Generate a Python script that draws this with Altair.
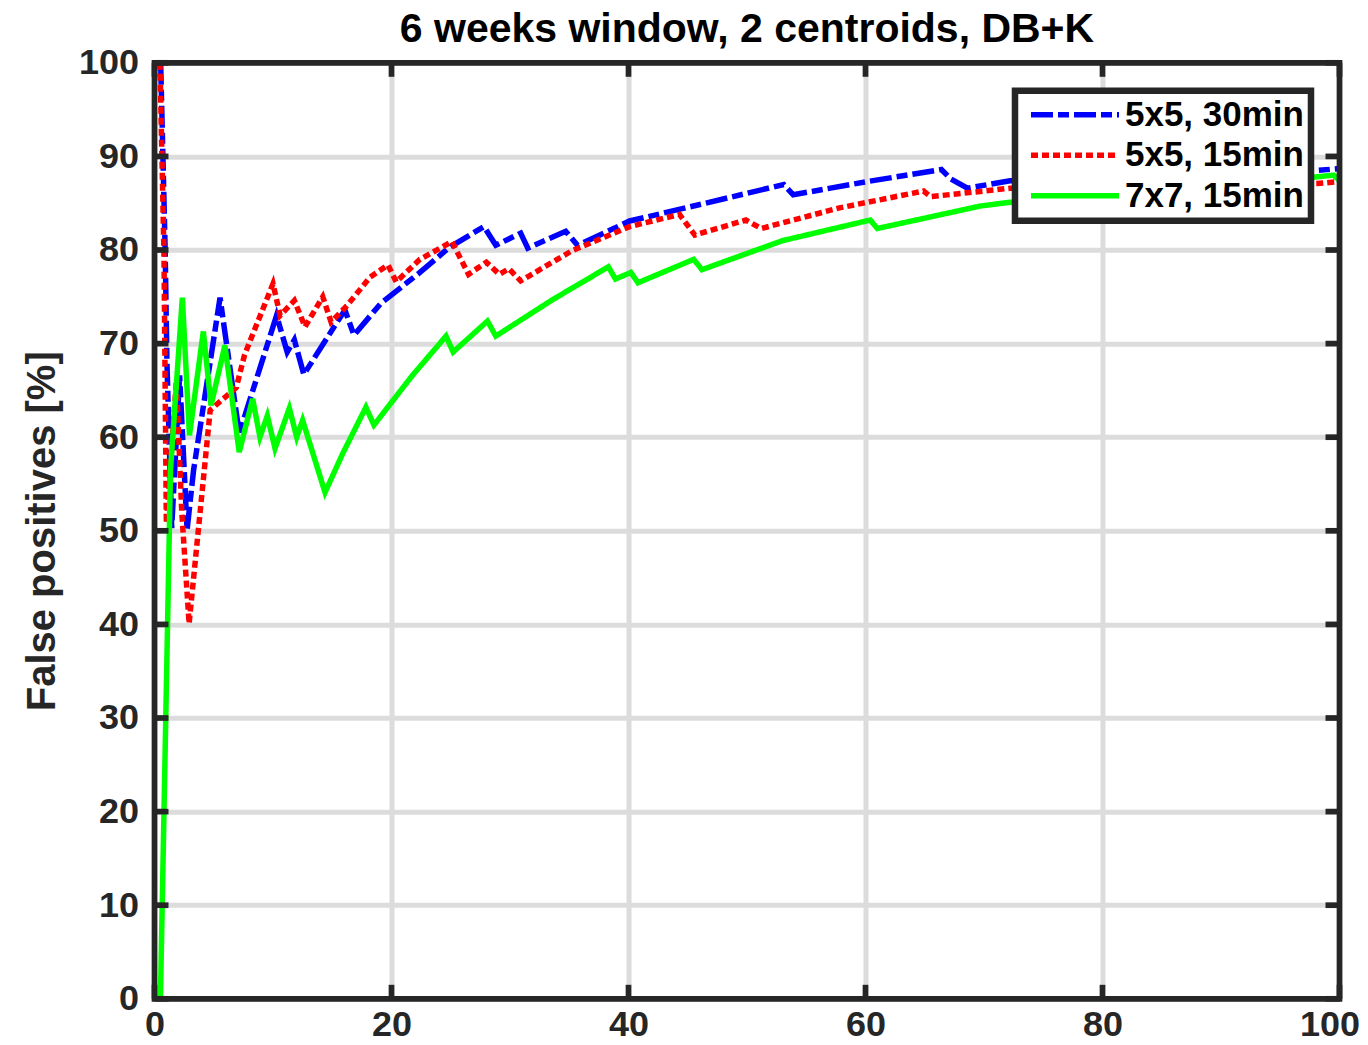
import altair as alt
import pandas as pd

# ---------------- data ----------------
series_names = ["5x5, 30min", "5x5, 15min", "7x7, 15min"]

blue_x = [0.52, 0.9, 1.05, 1.45, 2.12, 2.75, 3.3, 5.53, 7.15, 10.3, 11.2, 11.8, 12.6,
          16.07, 16.83, 19.1, 22.3, 24.9, 27.8, 28.8, 30.9, 31.5, 34.7, 35.7, 40.1,
          46.5, 53.1, 53.9, 60.1, 66.4, 67.2, 68.6, 72.2, 98.1, 100.0]
blue_y = [100.0, 80.0, 68.0, 50.3, 66.6, 50.1, 56.5, 74.9, 60.4, 73.0, 69.1, 70.4, 66.7,
          73.6, 70.9, 74.3, 77.5, 80.3, 82.5, 80.5, 81.8, 80.2, 82.0, 80.5, 83.1,
          85.0, 87.0, 85.9, 87.3, 88.6, 87.6, 86.6, 87.4, 88.5, 88.7]

red_x = [0.46, 0.8, 1.0, 1.85, 2.3, 2.92, 4.7, 6.9, 7.6, 10.0, 10.6, 11.8, 12.7, 14.2,
         14.9, 16.2, 18.2, 19.7, 20.4, 22.4, 25.1, 26.5, 28.0, 29.1, 29.9, 30.9, 35.2,
         40.1, 44.3, 45.6, 49.9, 51.2, 57.8, 64.9, 65.5, 72.2, 98.1, 100.0]
red_y = [100.0, 79.5, 50.8, 66.0, 52.0, 40.1, 62.9, 65.3, 68.8, 76.4, 73.0, 74.6, 71.8, 75.0,
         72.3, 74.0, 77.1, 78.4, 76.6, 79.0, 80.9, 77.4, 78.7, 77.4, 78.0, 76.7, 79.9,
         82.5, 83.8, 81.6, 83.2, 82.3, 84.5, 86.3, 85.7, 86.6, 87.1, 87.3]

green_x = [0.5, 1.35, 2.35, 2.95, 4.12, 4.77, 5.94, 7.15, 8.28, 8.9, 9.52, 10.17, 11.38,
           12.0, 12.5, 14.39, 15.9, 17.84, 18.52, 21.7, 24.6, 25.2, 28.1, 28.8, 33.6, 38.3,
           38.9, 40.2, 40.8, 45.5, 46.2, 53.0, 60.4, 61.0, 69.7, 72.2, 98.0, 99.5, 100.0]
green_y = [0.0, 56.5, 74.9, 60.2, 71.3, 63.4, 69.8, 58.4, 64.1, 60.0, 62.3, 58.8, 63.1,
           60.0, 61.8, 54.1, 58.3, 63.2, 61.3, 66.5, 70.8, 69.1, 72.4, 70.8, 74.7, 78.2,
           76.9, 77.6, 76.5, 79.0, 77.9, 81.0, 83.2, 82.3, 84.7, 85.1, 87.8, 88.0, 87.4]

x_ticks = [0, 20, 40, 60, 80, 100]
y_ticks = [0, 10, 20, 30, 40, 50, 60, 70, 80, 90, 100]

title_text = "6 weeks window, 2 centroids, DB+K"
y_title = "False positives [%]"

# ---------------- build table ----------------
rows = []
for name, xs, ys in zip(series_names, [blue_x, red_x, green_x], [blue_y, red_y, green_y]):
    for i, (a, b) in enumerate(zip(xs, ys)):
        rows.append({"series": name, "x": a, "y": b, "order": i})
df = pd.DataFrame(rows)

W, H = 1185, 936
FONT = "Liberation Sans"
DARK = "#262626"
TICK_LEN = 14
FRAME_W = 5.7

xscale = alt.Scale(domain=[0, 100], nice=False, zero=False)
yscale = alt.Scale(domain=[0, 100], nice=False, zero=False)
color_scale = alt.Scale(domain=series_names, range=["#0000ff", "#ff0000", "#00ff00"])
dash_scale = alt.Scale(domain=series_names, range=[[22, 5, 11, 5], [7, 4], [1, 0]])

legend = alt.Legend(
    title=None, orient="none", legendX=860.5, legendY=28,
    symbolType="stroke", symbolSize=7744, symbolStrokeWidth=5.5,
    clipHeight=34, rowPadding=5.5, labelFontSize=35, labelFont=FONT,
    labelFontWeight="bold", labelColor="black", labelOffset=3,
    padding=7, symbolOffset=6, strokeColor=DARK, fillColor="white",
    labelLimit=500,
)

x_axis = alt.Axis(values=x_ticks, title=None, labelFontSize=36, labelFont=FONT,
                  labelFontWeight="bold", labelColor=DARK, tickSize=0, domain=False,
                  grid=True, gridColor="#dcdcdc", gridWidth=5, labelPadding=9,
                  labelFlush=False,
                  labelOffset={"condition": {"test": "datum.value == 100", "value": -10},
                               "value": 0})
y_axis = alt.Axis(values=y_ticks, title=y_title, labelFontSize=36, labelFont=FONT,
                  labelFontWeight="bold", labelColor=DARK, tickSize=0, domain=False,
                  grid=True, gridColor="#dcdcdc", gridWidth=5, labelPadding=16,
                  titleFontSize=40, titleFont=FONT, titleFontWeight="bold",
                  titleColor=DARK, titlePadding=16, labelFlush=False)

layers = []
for k, name in enumerate(series_names):
    enc = dict(
        x=alt.X("x:Q", scale=xscale, axis=x_axis if k == 0 else alt.Undefined),
        y=alt.Y("y:Q", scale=yscale, axis=y_axis if k == 0 else alt.Undefined),
        color=alt.Color("series:N", scale=color_scale, legend=legend if k == 0 else alt.Undefined),
        strokeDash=alt.StrokeDash("series:N", scale=dash_scale, legend=legend if k == 0 else alt.Undefined),
        order=alt.Order("order:Q"),
    )
    layers.append(
        alt.Chart(df).transform_filter(alt.datum.series == name)
        .mark_line(strokeWidth=5.5, clip=True)
        .encode(**enc)
    )

ydf = pd.DataFrame({"y": y_ticks})
xdf = pd.DataFrame({"x": x_ticks})
tick_kw = dict(color=DARK, strokeWidth=FRAME_W)
left_ticks = alt.Chart(ydf).mark_rule(**tick_kw).encode(
    y=alt.Y("y:Q", scale=yscale), x=alt.value(0), x2=alt.value(TICK_LEN))
right_ticks = alt.Chart(ydf).mark_rule(**tick_kw).encode(
    y=alt.Y("y:Q", scale=yscale), x=alt.value(W - TICK_LEN), x2=alt.value(W))
top_ticks = alt.Chart(xdf).mark_rule(**tick_kw).encode(
    x=alt.X("x:Q", scale=xscale), y=alt.value(0), y2=alt.value(TICK_LEN))
bottom_ticks = alt.Chart(xdf).mark_rule(**tick_kw).encode(
    x=alt.X("x:Q", scale=xscale), y=alt.value(H - TICK_LEN), y2=alt.value(H))

frame = alt.Chart(xdf.head(1)).mark_rect(filled=False, stroke=DARK, strokeWidth=FRAME_W).encode(
    x=alt.value(0), x2=alt.value(W), y=alt.value(0), y2=alt.value(H))

title_df = pd.DataFrame({"t": [title_text]})
title_layer = alt.Chart(title_df).mark_text(
    font=FONT, fontSize=41, fontWeight="bold", color="black",
    align="center", baseline="alphabetic").encode(
    text="t:N", x=alt.value(W / 2), y=alt.value(-21))

chart = alt.layer(*layers, left_ticks, right_ticks, top_ticks, bottom_ticks, frame,
                  title_layer).properties(
    width=W, height=H,
    autosize=alt.AutoSizeParams(type="none"),
    padding={"left": 146.5, "top": 54.8, "right": 20, "bottom": 40},
).configure_view(stroke=None).configure_legend(strokeWidth=6.5)

chart.save("out.html", embed_options={"renderer": "svg", "actions": False})
